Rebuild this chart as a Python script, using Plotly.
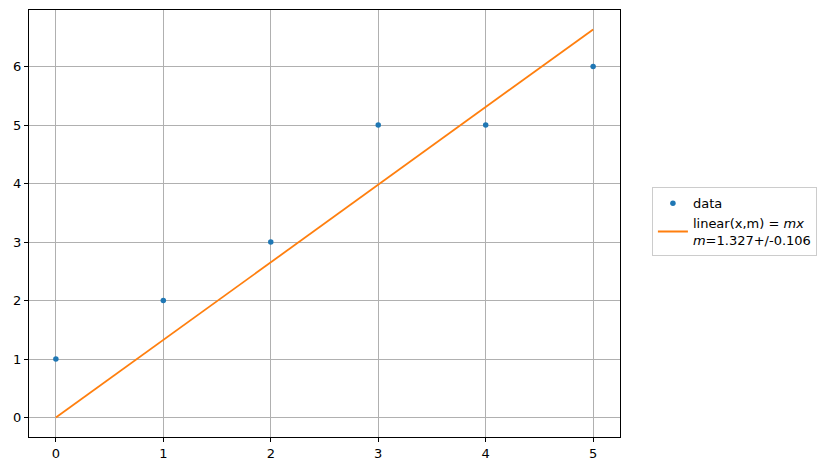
import plotly.graph_objects as go

data_x = [0, 1, 2, 3, 4, 5]
data_y = [1, 2, 3, 5, 5, 6]
fit_x = [0, 5]
fit_y = [0.0, 6.635]
x_ticks = [0, 1, 2, 3, 4, 5]
y_ticks = [0, 1, 2, 3, 4, 5, 6]

fig = go.Figure()
fig.add_trace(go.Scatter(x=data_x, y=data_y, mode="markers", name="data",
                         marker=dict(color="#1f77b4", size=5.5)))
fig.add_trace(go.Scatter(x=fit_x, y=fit_y, mode="lines",
                         name="linear(x,m) = <i>mx</i><br><i>m</i>=1.327+/-0.106",
                         line=dict(color="#ff7f0e", width=1.8)))

axis_common = dict(showgrid=True, gridcolor="#b0b0b0", gridwidth=0.8,
                   showline=True, linecolor="black", linewidth=1, mirror=True,
                   ticks="outside", ticklen=4, tickcolor="black", zeroline=False,
                   automargin=False,
                   tickfont=dict(family="DejaVu Sans", size=13, color="black"))

fig.update_xaxes(range=[-0.25, 5.25], tickvals=x_ticks, **axis_common)
fig.update_yaxes(range=[-0.33175, 6.96675], tickvals=y_ticks, **axis_common)

fig.update_layout(
    width=837, height=470,
    margin=dict(l=21, r=225, t=2, b=41),
    plot_bgcolor="white", paper_bgcolor="white",
    font=dict(family="DejaVu Sans", size=13, color="black"),
    legend=dict(x=1.054, y=0.585, xanchor="left", yanchor="top",
                bordercolor="#cccccc", borderwidth=1, bgcolor="white",
                font=dict(size=13), tracegroupgap=2),
)
fig.write_html("out.html")
